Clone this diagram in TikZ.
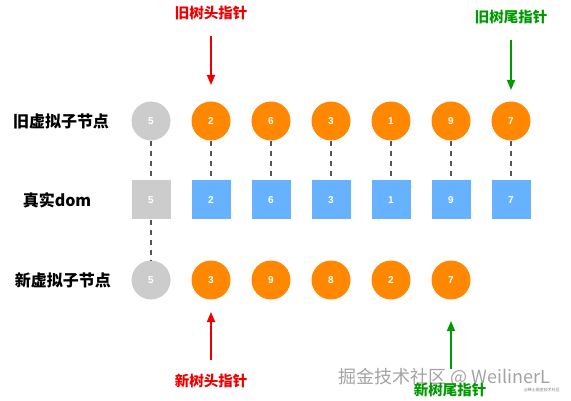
\documentclass[tikz,border=0pt]{standalone}
\usepackage{fontspec}
\setmainfont{Liberation Sans}
\newfontfamily\cjk{Noto Sans CJK SC}
\usetikzlibrary{arrows.meta}
\definecolor{orng}{HTML}{FF8800}
\definecolor{gry}{HTML}{CCCCCC}
\definecolor{blu}{HTML}{66B2FF}
\definecolor{rd}{HTML}{EE0000}
\definecolor{grn}{HTML}{009900}
\definecolor{dsh}{HTML}{555555}
\tikzset{
  vnode/.style={circle, minimum size=39pt, inner sep=0pt, fill=orng, text=white, font=\fontsize{10}{10}\selectfont\bfseries},
  vgray/.style={vnode, fill=gry},
  dnode/.style={rectangle, minimum size=39pt, inner sep=0pt, fill=blu, text=white, font=\fontsize{10}{10}\selectfont\bfseries},
  dgray/.style={dnode, fill=gry},
  rowlabel/.style={font=\cjk\fontsize{16}{16}\selectfont\bfseries, text=black},
  ptrlabel/.style={font=\cjk\fontsize{14.5}{14.5}\selectfont\bfseries},
  link/.style={draw=dsh, line width=1.5pt, dash pattern=on 5pt off 5pt},
  ptr/.style={line width=1.5pt, -{Triangle[width=8pt,length=10pt]}},
}
\begin{document}
\begin{tikzpicture}[x=1pt,y=-1pt]
\useasboundingbox (0,0) rectangle (571,401);
% row labels
\node[rowlabel] (l1) at (61,121) {旧虚拟子节点};
\node[rowlabel] (l2) at (57,200) {真实dom};
\node[rowlabel] (l3) at (63,280) {新虚拟子节点};
% old vnodes
\node[vgray] (o1) at (151,121) {5};
\node[vnode] (o2) at (211,121) {2};
\node[vnode] (o3) at (271,121) {6};
\node[vnode] (o4) at (331,121) {3};
\node[vnode] (o5) at (391,121) {1};
\node[vnode] (o6) at (451,121) {9};
\node[vnode] (o7) at (511,121) {7};
% real dom
\node[dgray] (d1) at (151,200) {5};
\node[dnode] (d2) at (211,200) {2};
\node[dnode] (d3) at (271,200) {6};
\node[dnode] (d4) at (331,200) {3};
\node[dnode] (d5) at (391,200) {1};
\node[dnode] (d6) at (451,200) {9};
\node[dnode] (d7) at (511,200) {7};
% new vnodes
\node[vgray] (n1) at (151,280) {5};
\node[vnode] (n2) at (211,280) {3};
\node[vnode] (n3) at (271,280) {9};
\node[vnode] (n4) at (331,280) {8};
\node[vnode] (n5) at (391,280) {2};
\node[vnode] (n6) at (451,280) {7};
% dashed links
\foreach \i in {1,...,7} {\draw[link] (o\i.south) -- (d\i.north);}
\draw[link] (d1.south) -- (n1.north);
% pointers
\node[ptrlabel, text=rd] (ohl) at (211,13) {旧树头指针};
\coordinate (ohs) at (211,36);
\draw[ptr, draw=rd, fill=rd] (ohs) -- (211,85);
\node[ptrlabel, text=grn] (otl) at (511,17) {旧树尾指针};
\coordinate (ots) at (511,40);
\draw[ptr, draw=grn, fill=grn] (ots) -- (511,90);
\node[ptrlabel, text=rd] (nhl) at (211,381) {新树头指针};
\coordinate (nhs) at (211,360);
\draw[ptr, draw=rd, fill=rd] (nhs) -- (211,312);
\coordinate (nts) at (451,369);
\draw[ptr, draw=grn, fill=grn] (nts) -- (451,321);
% watermark
\node[font=\cjk\fontsize{18}{18}\selectfont, text=black!45, opacity=0.8, anchor=west, inner sep=0pt] (wm) at (338,377) {掘金技术社区 @ WeilinerL};
\node[ptrlabel, text=grn] (ntl) at (450,390) {新树尾指针};
\node[font=\cjk\fontsize{4}{4}\selectfont, text=black!50, anchor=west, inner sep=0pt] (wm2) at (524,390) {@稀土掘金技术社区};
\end{tikzpicture}
\end{document}
